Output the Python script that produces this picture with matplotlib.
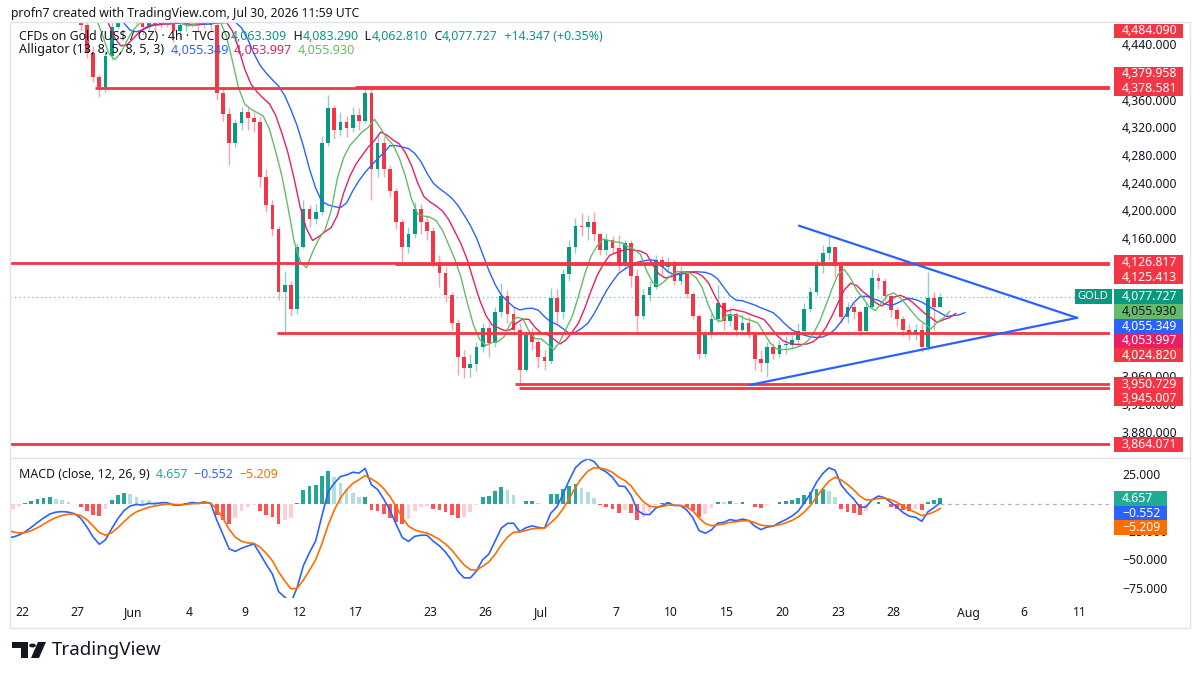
import numpy as np
import matplotlib.pyplot as plt
from matplotlib.patches import Rectangle, Polygon, Circle
from matplotlib.lines import Line2D

plt.rcParams['font.family'] = ['Noto Sans', 'DejaVu Sans']

W, H = 1200, 675

# 8h candles, three per trading day; day 0 = Fri May 22 (days -4..-2 are off-screen history)
first_day = -4
first_open = 4610
closes = [
    4605, 4595, 4585,  4580, 4565, 4550,  4535, 4515, 4495,  4490, 4486, 4495,
    4500, 4508, 4515,  4520, 4524, 4518,  4512, 4505, 4495,  4470, 4430, 4395,
    4380, 4425, 4468,  4482, 4490, 4486,  4478, 4468, 4480,  4472, 4480, 4476,
    4462, 4470, 4478,  4482, 4472, 4484,  4470, 4372, 4342,  4300, 4328, 4345,
    4336, 4330, 4250,  4210, 4175, 4085,  4095, 4060, 4150,  4205, 4190, 4200,
    4300, 4350, 4318,  4330, 4322, 4340,  4332, 4372, 4262,  4300, 4262, 4230,
    4185, 4150, 4168,  4205, 4185, 4172,  4128, 4112, 4080,  4040, 3990, 3975,
    3980, 4005, 4032,  4010, 4055, 4078,  4052, 4030, 3972,  4022, 4012, 3990,
    3985, 4075, 4055,  4110, 4150, 4180,  4178, 4185, 4168,  4145, 4160, 4148,
    4122, 4155, 4108,  4050, 4080, 4092,  4130, 4120, 4128,  4100, 4110, 4082,
    4050, 3995, 4022,  4045, 4068, 4042,  4052, 4030, 4040,  4022, 3988, 3982,
    4005, 3995, 4008,  4008, 4015, 4028,  4060, 4085, 4125,  4140, 4150, 4122,
    4048, 4062, 4055,  4028, 4062, 4105,  4100, 4078, 4058,  4045, 4030, 4025,
    4030, 4005, 4075,  4063.309, 4077.727,
]
highs = [
    4615, 4610, 4600,  4592, 4584, 4570,  4555, 4540, 4520,  4505, 4498, 4506,
    4510, 4518, 4522,  4530, 4532, 4528,  4524, 4518, 4510,  4500, 4475, 4440,
    4400, 4432, 4476,  4495, 4502, 4498,  4492, 4485, 4490,  4486, 4490, 4488,
    4480, 4478, 4488,  4494, 4488, 4492,  4490, 4476, 4380,  4350, 4335, 4352,
    4352, 4345, 4338,  4262, 4218, 4180,  4115, 4100, 4155,  4218, 4210, 4212,
    4310, 4369, 4355,  4345, 4338, 4352,  4350, 4382, 4378,  4312, 4310, 4268,
    4235, 4190, 4178,  4215, 4212, 4195,  4178, 4138, 4120,  4085, 4045, 4000,
    3995, 4012, 4040,  4040, 4062, 4097,  4087, 4062, 4040,  4028, 4032, 4015,
    4000, 4090, 4088,  4118, 4160, 4192,  4198, 4195, 4200,  4170, 4170, 4165,
    4166, 4160, 4160,  4118, 4088, 4100,  4138, 4136, 4135,  4130, 4122, 4112,
    4085, 4052, 4030,  4052, 4095, 4070,  4062, 4055, 4052,  4048, 4028, 4000,
    4012, 4010, 4015,  4020, 4022, 4040,  4068, 4092, 4132,  4152, 4165, 4150,
    4125, 4070, 4068,  4058, 4070, 4117,  4112, 4105, 4080,  4062, 4050, 4038,
    4038, 4040, 4113,  4085, 4083.290,
]
lows = [
    4595, 4588, 4578,  4572, 4558, 4542,  4528, 4508, 4488,  4482, 4480, 4482,
    4486, 4496, 4502,  4510, 4512, 4508,  4502, 4496, 4484,  4462, 4422, 4388,
    4366, 4374, 4420,  4465, 4480, 4478,  4472, 4456, 4462,  4460, 4466, 4468,
    4445, 4452, 4462,  4468, 4460, 4466,  4462, 4362, 4332,  4268, 4294, 4318,
    4318, 4315, 4236,  4200, 4165, 4073,  4025, 4050, 4052,  4148, 4178, 4182,
    4195, 4295, 4305,  4310, 4308, 4315,  4318, 4328, 4217,  4250, 4250, 4222,
    4175, 4128, 4140,  4162, 4168, 4160,  4120, 4092, 4070,  4030, 3965, 3960,
    3962, 3970, 3998,  3990, 4005, 4048,  4040, 4022, 3950,  3968, 4000, 3975,
    3972, 3980, 4040,  4045, 4100, 4140,  4165, 4160, 4158,  4138, 4138, 4140,
    4115, 4118, 4092,  4028, 4045, 4072,  4088, 4110, 4112,  4095, 4095, 4075,
    4045, 3988, 3990,  4018, 4040, 4030,  4035, 4020, 4025,  4018, 3972, 3969,
    3962, 3988, 3990,  3995, 4002, 4008,  4022, 4055, 4080,  4112, 4130, 4106,
    4040, 4040, 4045,  4022, 4025, 4060,  4088, 4072, 4048,  4035, 4020, 4015,
    4015, 3998, 4000,  4030, 4062.810,
]

tick_days = [0, 3, 6, 9, 12, 15, 18, 22, 25, 28, 32, 35, 38, 41, 44, 47, 51, 54, 57]
tick_labels = ['22', '27', 'Jun', '4', '9', '12', '17', '23', '26', 'Jul',
               '7', '10', '15', '20', '23', '28', 'Aug', '6', '11']

# drawn horizontal levels and the day each one starts
level_prices = [4484.090, 4379.958, 4378.581, 4126.817, 4125.413, 4024.820, 3950.729, 3945.007, 3864.071]
level_start = [-1, 17.95, 3.94, -1, 20.1, 13.75, 26.6, 26.8, -1]

# triangle trendlines (day, price)
tri_upper_days, tri_upper_prices = [41.9, 56.87], [4180, 4047]
tri_lower_days, tri_lower_prices = [39.25, 56.87], [3950, 4047]

ohlc_text = ['4,063.309', '4,083.290', '4,062.810', '4,077.727']
change_text = '+14.347 (+0.35%)'
last_price = 4077.727
gator_vals = [4055.349, 4053.997, 4055.930]   # jaw, teeth, lips
macd_vals = [4.657, -0.552, -5.209]            # histogram, macd, signal

UP, DN = '#089981', '#F23645'
BLUE, TEETH, LIPS, ORANGE = '#2962FF', '#E91E63', '#66BB6A', '#FF6D00'
DARK = '#131722'

closes = np.array(closes, float)
highs = np.array(highs, float)
lows = np.array(lows, float)
opens = np.r_[first_open, closes[:-1]]
n = len(closes)
xs = np.array([first_day + i // 3 + (i % 3 + 0.5) / 3 for i in range(n)])


def ema4h(v, length, smma=False):
    # indicator lengths are for 4h bars; convert the smoothing factor to 8h steps
    a = 1 / length if smma else 2 / (length + 1)
    a = 1 - (1 - a) ** 2
    out = np.empty_like(v)
    out[0] = v[0]
    for i in range(1, len(v)):
        out[i] = out[i - 1] + a * (v[i] - out[i - 1])
    return out


fig = plt.figure(figsize=(W / 100, H / 100), dpi=100, facecolor='white')
ax = fig.add_axes([10 / W, 1 - 457 / H, 1100 / W, 435 / H])
ax2 = fig.add_axes([10 / W, 1 - 598 / H, 1100 / W, 139 / H])
for a in (ax, ax2):
    a.set_xlim(-0.647, 58.65)
    for s in a.spines.values():
        s.set_visible(False)
    a.set_xticks([])
    a.set_yticks([])
    a.patch.set_alpha(0)
ax.set_ylim(3845.8, 4474.6)
ax2.set_ylim(-82.5, 39.5)

# candles
up = closes >= opens
ax.vlines(xs, lows, highs, colors=np.where(up, UP, DN), lw=1, alpha=0.45, zorder=2)
body = np.maximum(np.abs(closes - opens), 0.8)
ax.bar(xs, body, bottom=np.minimum(opens, closes), width=0.2,
       color=np.where(up, UP, DN), zorder=3, lw=0)

# alligator
hl2 = (highs + lows) / 2
ax.plot(xs + 8 / 6, ema4h(hl2, 13, True), color=BLUE, lw=1.0, zorder=4)
ax.plot(xs + 5 / 6, ema4h(hl2, 8, True), color=TEETH, lw=1.0, zorder=4)
ax.plot(xs + 3 / 6, ema4h(hl2, 5, True), color=LIPS, lw=1.0, zorder=4)

# levels and triangle
ax.hlines(level_prices, level_start, 58.65, colors='#F23645', lw=2, zorder=5)
ax.plot(tri_upper_days, tri_upper_prices, color=BLUE, lw=1.6, zorder=5)
ax.plot(tri_lower_days, tri_lower_prices, color=BLUE, lw=1.6, zorder=5)
ax.axhline(last_price, color=UP, lw=0.9, ls=(0, (1, 2.5)), alpha=0.6, zorder=1)

# MACD
macd = ema4h(closes, 12) - ema4h(closes, 26)
signal = ema4h(macd, 9)
hist = macd - signal
prev = np.r_[hist[0], hist[:-1]]
hcol = np.where(hist >= 0, np.where(hist > prev, '#26A69A', '#B2DFDB'),
                np.where(hist < prev, '#FF5252', '#FFCDD2'))
ax2.bar(xs, hist, width=0.2, color=hcol, lw=0, zorder=2)
ax2.plot(xs, macd, color=BLUE, lw=1.2, zorder=3)
ax2.plot(xs, signal, color=ORANGE, lw=1.2, zorder=3)
ax2.plot([xs[-1], 58.65], [0, 0], color='#B2B5BE', lw=0.9, ls=(0, (3, 3)), zorder=1)

# frame
fig.add_artist(Rectangle((10 / W, 1 - 628 / H), 1180 / W, 606 / H, fill=False,
                         ec='#E0E3EB', lw=1, transform=fig.transFigure))
fig.add_artist(Line2D([10 / W, 1190 / W], [1 - 458 / H] * 2, color='#E0E3EB', lw=1,
                      transform=fig.transFigure))

LH = 14.5  # label box height in pixels


def ypix(axis, v):
    return H - axis.transData.transform((0, v))[1]


def xpix(d):
    return ax.transData.transform((d, 0))[0]


def stack(items, top, up_limit=0):
    # labels near the top of the scale are pushed upward, the rest downward
    items = sorted(items, key=lambda t: t[0])
    ys = [t[0] for t in items]
    out = list(ys)
    for i in range(len(out) - 2, -1, -1):
        if ys[i + 1] < up_limit and ys[i + 1] - ys[i] < LH:
            out[i] = min(out[i], out[i + 1] - LH)
    last = -1e9
    for i in range(len(out)):
        out[i] = max(out[i], last + LH, top)
        last = out[i]
    return [(y, *t[1:]) for y, t in zip(out, items)]


def covered(y, centers):
    # True when the whole tick text lies under the label boxes
    lo, hi = y - 4.5, y + 4.5
    for c in sorted(centers):
        if c - LH / 2 <= lo + 0.01:
            lo = max(lo, c + LH / 2)
    return lo >= hi


def box(x0, x1, yc, fc, txt, tc='white', z=6):
    fig.add_artist(Rectangle((x0 / W, 1 - (yc + LH / 2) / H), (x1 - x0) / W, LH / H,
                             fc=fc, ec='none', transform=fig.transFigure, zorder=z))
    fig.text(1122 / W, 1 - yc / H, txt, color=tc, fontsize=8.8, ha='left', va='center', zorder=z + 1)


labels = [(ypix(ax, v), f'{v:,.3f}', DN, 'white') for v in level_prices]
labels += [(ypix(ax, last_price), f'{last_price:,.3f}', UP, 'white'),
           (ypix(ax, gator_vals[2]), f'{gator_vals[2]:,.3f}', LIPS, DARK),
           (ypix(ax, gator_vals[0]), f'{gator_vals[0]:,.3f}', BLUE, 'white'),
           (ypix(ax, gator_vals[1]), f'{gator_vals[1]:,.3f}', TEETH, 'white')]
labels = stack(labels, 31, up_limit=150)

mlabels = [(ypix(ax2, macd_vals[0]), f'{macd_vals[0]:.3f}', '#22AB94'),
           (ypix(ax2, macd_vals[1]), f'{macd_vals[1]:.3f}'.replace('-', '\u2212'), BLUE),
           (ypix(ax2, macd_vals[2]), f'{macd_vals[2]:.3f}'.replace('-', '\u2212'), ORANGE)]
mlabels = stack(mlabels, 466)

# scale ticks (hidden where the value labels cover them)
pcent = [t[0] for t in labels]
for v in range(3880, 4441, 40):
    y = ypix(ax, v)
    if not covered(y, pcent):
        fig.text(1122 / W, 1 - y / H, f'{v:,.3f}', color=DARK, fontsize=8.8, ha='left', va='center', zorder=3)
mcent = [t[0] for t in mlabels]
for v in [25, 0, -25, -50, -75]:
    y = ypix(ax2, v)
    if not covered(y, mcent):
        fig.text(1122 / W, 1 - y / H, f'{v:.3f}'.replace('-', '\u2212'), color=DARK, fontsize=8.8,
                 ha='left', va='center', zorder=3)

for yc, txt, fc, tc in labels:
    box(1114, 1183, yc, fc, txt, tc)
    if fc == UP:
        fig.add_artist(Rectangle((1075 / W, 1 - (yc + LH / 2) / H), 37 / W, LH / H, fc=UP, ec='none',
                                 transform=fig.transFigure, zorder=6))
        fig.text(1093 / W, 1 - yc / H, 'GOLD', color='white', fontsize=8, fontweight='bold',
                 ha='center', va='center', zorder=7)
for yc, txt, fc in mlabels:
    box(1114, 1167, yc, fc, txt)

# date axis
for d, lab in zip(tick_days, tick_labels):
    bold = lab in ('Jun', 'Jul', 'Aug')
    fig.text(xpix(d) / W, 1 - 613 / H, lab, color=DARK, fontsize=8.8, ha='center', va='center',
             fontweight='bold' if bold else 'normal')

renderer = fig.canvas.get_renderer()


def run(x, y, parts, size, weight='normal'):
    for s, col in parts:
        t = fig.text(x / W, 1 - y / H, s, color=col, fontsize=size, fontweight=weight,
                     ha='left', va='center', zorder=8)
        x += t.get_window_extent(renderer).width


run(11, 13, [('profn7 created with TradingView.com, Jul 30, 2026 11:59 UTC', DARK)], 8.8, 'semibold')
run(19, 36, [('CFDs on Gold (US$ / OZ) \u00b7 4h \u00b7 TVC  O', DARK), (ohlc_text[0], UP),
             ('  H', DARK), (ohlc_text[1], UP), ('  L', DARK), (ohlc_text[2], UP),
             ('  C', DARK), (ohlc_text[3], UP), ('  ' + change_text, UP)], 8.9)
run(19, 50, [('Alligator (13, 8, 5, 8, 5, 3)  ', DARK), (f'{gator_vals[0]:,.3f}  ', BLUE),
             (f'{gator_vals[1]:,.3f}  ', TEETH), (f'{gator_vals[2]:,.3f}', LIPS)], 9.1)
run(19, 475, [('MACD (close, 12, 26, 9)  ', DARK), (f'{macd_vals[0]:.3f}  ', '#22AB94'),
              (f'{macd_vals[1]:.3f}  '.replace('-', '\u2212'), BLUE),
              (f'{macd_vals[2]:.3f}'.replace('-', '\u2212'), ORANGE)], 8.9)


# TradingView logo
def fpts(pts):
    return [(px / W, 1 - py / H) for px, py in pts]


fig.add_artist(Polygon(fpts([(12, 642), (28, 642), (28, 658), (21, 658), (21, 648), (12, 648)]),
                       closed=True, fc=DARK, ec='none', transform=fig.transFigure))
fig.add_artist(Circle((32.5 / W, 1 - 645.5 / H), 3.4 / W, fc=DARK, ec='none', transform=fig.transFigure))
fig.add_artist(Polygon(fpts([(38, 642), (46, 642), (39, 658), (31, 658)]), closed=True, fc=DARK,
                       ec='none', transform=fig.transFigure))
fig.text(52 / W, 1 - 650 / H, 'TradingView', color=DARK, fontsize=13.5, fontweight='bold',
         ha='left', va='center')

fig.savefig('out.png', dpi=100, facecolor='white')
